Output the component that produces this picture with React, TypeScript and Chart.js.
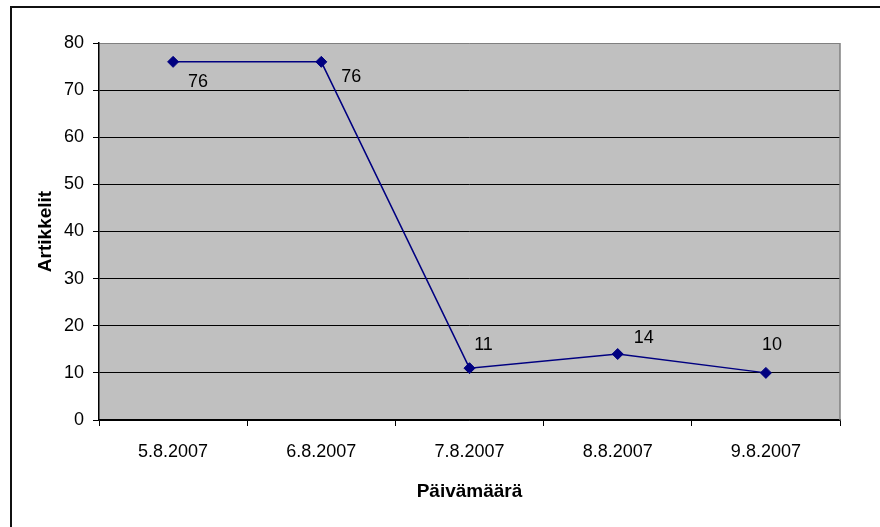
import React, { useEffect, useRef } from "react";
import { Chart, registerables } from "chart.js";

Chart.register(...registerables);

const categories = ["5.8.2007", "6.8.2007", "7.8.2007", "8.8.2007", "9.8.2007"];
const articles = [76, 76, 11, 14, 10];
const yTicks = { min: 0, max: 80, step: 10 };
const yTitle = "Artikkelit";
const xTitle = "Päivämäärä";

const FONT = "'Liberation Sans', Arial, sans-serif";
const NAVY = "#000080";
// label offsets relative to each point (Excel-like placement)
const labelOffsets = [
  [25, 20],
  [30, 15],
  [14, -23],
  [26, -16],
  [6, -28],
];

const decorPlugin = {
  id: "decor",
  beforeDraw(chart: any) {
    const { ctx, chartArea: a } = chart;
    ctx.save();
    ctx.fillStyle = "#ffffff";
    ctx.fillRect(0, 0, chart.width, chart.height);
    ctx.fillStyle = "#C0C0C0";
    ctx.fillRect(a.left, a.top, a.right - a.left, a.bottom - a.top);
    // outer frame (left and top edges)
    ctx.fillStyle = "#111111";
    ctx.fillRect(10, 6, chart.width - 10, 2);
    ctx.fillRect(10, 6, 2, chart.height - 6);
    ctx.restore();
  },
  afterDraw(chart: any) {
    const { ctx, chartArea: a } = chart;
    ctx.save();
    // right plot border
    ctx.strokeStyle = "#808080";
    ctx.lineWidth = 1.5;
    ctx.beginPath();
    ctx.moveTo(a.right, a.top);
    ctx.lineTo(a.right, a.bottom);
    ctx.stroke();
    // axis titles
    ctx.fillStyle = "#000000";
    ctx.font = `bold 19px ${FONT}`;
    ctx.textAlign = "center";
    ctx.textBaseline = "middle";
    ctx.fillText(xTitle, (a.left + a.right) / 2, 492);
    ctx.translate(46, (a.top + a.bottom) / 2);
    ctx.rotate(-Math.PI / 2);
    ctx.fillText(yTitle, 0, 0);
    ctx.restore();
  },
  afterDatasetsDraw(chart: any) {
    const { ctx } = chart;
    const meta = chart.getDatasetMeta(0);
    ctx.save();
    ctx.fillStyle = "#000000";
    ctx.font = `18px ${FONT}`;
    ctx.textAlign = "center";
    ctx.textBaseline = "middle";
    meta.data.forEach((pt: any, i: number) => {
      const off = labelOffsets[i] || [0, -20];
      ctx.fillText(String(articles[i]), pt.x + off[0], pt.y + off[1]);
    });
    ctx.restore();
  },
};

export default function App() {
  const ref = useRef<HTMLCanvasElement>(null);
  useEffect(() => {
    if (!ref.current) return;
    const chart = new Chart(ref.current, {
      type: "line",
      data: {
        labels: categories,
        datasets: [
          {
            data: articles,
            borderColor: NAVY,
            backgroundColor: NAVY,
            borderWidth: 1.5,
            pointStyle: "rectRot",
            pointRadius: 5.5,
            pointBorderWidth: 1,
            pointBackgroundColor: NAVY,
            pointBorderColor: NAVY,
            tension: 0,
          },
        ],
      },
      options: {
        responsive: false,
        animation: false,
        layout: { padding: { top: 43, right: 40, left: 0, bottom: 0 } },
        plugins: {
          legend: { display: false },
          tooltip: { enabled: false },
          title: { display: false },
        },
        scales: {
          x: {
            type: "category",
            offset: true,
            grid: {
              offset: true,
              drawOnChartArea: false,
              drawTicks: true,
              tickLength: 6,
              tickColor: "#000000",
              color: "#000000",
            },
            border: { display: true, color: "#000000", width: 1.5 },
            ticks: {
              color: "#000000",
              font: { family: FONT, size: 18 },
              padding: 15,
              maxRotation: 0,
            },
            afterFit(s: any) {
              s.height = 107;
            },
          },
          y: {
            min: yTicks.min,
            max: yTicks.max,
            grid: {
              color: (c: any) => (c.tick && c.tick.value === yTicks.max ? "#808080" : "#000000"),
              tickColor: "#000000",
              lineWidth: 1,
              tickLength: 6,
            },
            border: { display: true, color: "#000000", width: 1.5 },
            ticks: {
              stepSize: yTicks.step,
              color: "#000000",
              font: { family: FONT, size: 18 },
              padding: 9,
            },
            afterFit(s: any) {
              s.width = 99;
            },
          },
        },
      },
      plugins: [decorPlugin],
    });
    return () => chart.destroy();
  }, []);
  return (
    <div style={{ position: "absolute", left: 0, top: 0, width: 880, height: 527 }}>
      <canvas ref={ref} width={880} height={527} style={{ display: "block", width: 880, height: 527 }} />
    </div>
  );
}
